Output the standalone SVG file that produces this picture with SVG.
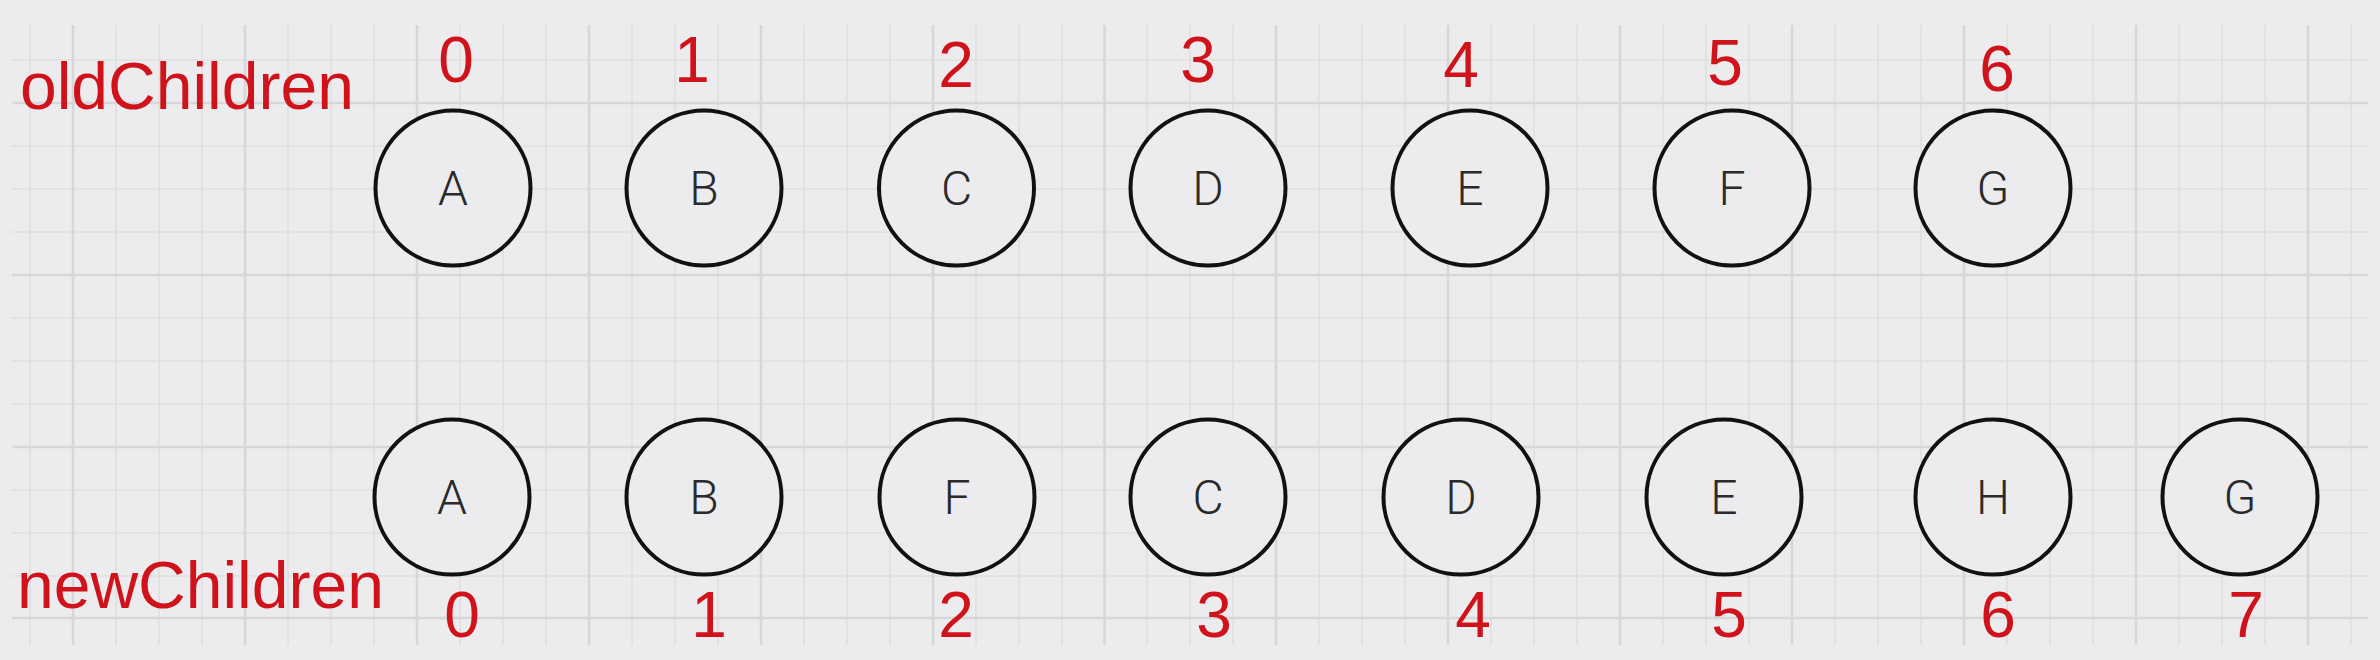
<svg xmlns="http://www.w3.org/2000/svg" width="2380" height="660" viewBox="0 0 2380 660">
<style>
.bg{fill:#ececee}
.gmin{stroke:#dfdfe1;stroke-width:1.6;fill:none}
.gmaj{stroke:#d7d7d9;stroke-width:2.6;fill:none}
.node circle{fill:#ececee;stroke:#111;stroke-width:4}
.node text{font-family:Roboto,"Liberation Sans",Arial,sans-serif;font-weight:300;font-size:48px;fill:#2a2a2a;text-anchor:middle}
.red{font-family:"Liberation Sans",Arial,Helvetica,sans-serif;fill:#d0121b}
.idx{font-size:64px;text-anchor:middle}
.lbl{font-size:66px}
</style>
<rect class="bg" x="0" y="0" width="2380" height="660"/>
<g id="grid">
<path class="gmin" d="M30 25V645M116 25V645M159 25V645M202 25V645M288 25V645M331 25V645M374 25V645M460 25V645M503 25V645M546 25V645M632 25V645M675 25V645M718 25V645M804 25V645M847 25V645M890 25V645M976 25V645M1019 25V645M1062 25V645M1147 25V645M1190 25V645M1233 25V645M1319 25V645M1362 25V645M1405 25V645M1491 25V645M1534 25V645M1577 25V645M1663 25V645M1706 25V645M1749 25V645M1835 25V645M1878 25V645M1921 25V645M2007 25V645M2050 25V645M2093 25V645M2179 25V645M2222 25V645M2265 25V645M2351 25V645"/>
<path class="gmin" d="M12 60H2368M12 146H2368M12 189H2368M12 232H2368M12 318H2368M12 361H2368M12 404H2368M12 490H2368M12 533H2368M12 576H2368"/>
<path class="gmaj" d="M73 25V645M245 25V645M417 25V645M589 25V645M761 25V645M933 25V645M1104.5 25V645M1276 25V645M1448 25V645M1620 25V645M1792 25V645M1964 25V645M2136 25V645M2308 25V645"/>
<path class="gmaj" d="M12 103H2368M12 275H2368M12 447H2368M12 618H2368"/>
</g>
<g id="connectors"/>
<g id="labels">
<text class="red lbl" x="20" y="109">oldChildren</text>
<text class="red lbl" x="17" y="608">newChildren</text>
</g>
<g id="old-A" class="node"><circle cx="453" cy="188" r="77.5"/><text x="453" y="205">A</text></g>
<g id="old-B" class="node"><circle cx="704" cy="188" r="77.5"/><text x="704" y="205">B</text></g>
<g id="old-C" class="node"><circle cx="956.5" cy="188" r="77.5"/><text x="956.5" y="205">C</text></g>
<g id="old-D" class="node"><circle cx="1208" cy="188" r="77.5"/><text x="1208" y="205">D</text></g>
<g id="old-E" class="node"><circle cx="1470" cy="188" r="77.5"/><text x="1470" y="205">E</text></g>
<g id="old-F" class="node"><circle cx="1732" cy="188" r="77.5"/><text x="1732" y="205">F</text></g>
<g id="old-G" class="node"><circle cx="1993" cy="188" r="77.5"/><text x="1993" y="205">G</text></g>
<g id="new-A" class="node"><circle cx="452" cy="497" r="77.5"/><text x="452" y="514">A</text></g>
<g id="new-B" class="node"><circle cx="704" cy="497" r="77.5"/><text x="704" y="514">B</text></g>
<g id="new-F" class="node"><circle cx="957" cy="497" r="77.5"/><text x="957" y="514">F</text></g>
<g id="new-C" class="node"><circle cx="1208" cy="497" r="77.5"/><text x="1208" y="514">C</text></g>
<g id="new-D" class="node"><circle cx="1461" cy="497" r="77.5"/><text x="1461" y="514">D</text></g>
<g id="new-E" class="node"><circle cx="1724" cy="497" r="77.5"/><text x="1724" y="514">E</text></g>
<g id="new-H" class="node"><circle cx="1993" cy="497" r="77.5"/><text x="1993" y="514">H</text></g>
<g id="new-G" class="node"><circle cx="2240" cy="497" r="77.5"/><text x="2240" y="514">G</text></g>
<g id="old-indices">
<text class="red idx" x="456" y="82">0</text>
<text class="red idx" x="692" y="82">1</text>
<text class="red idx" x="956" y="87">2</text>
<text class="red idx" x="1198" y="82">3</text>
<text class="red idx" x="1461" y="87">4</text>
<text class="red idx" x="1725" y="85">5</text>
<text class="red idx" x="1997" y="91">6</text>
</g>
<g id="new-indices">
<text class="red idx" x="462" y="637">0</text>
<text class="red idx" x="709" y="637">1</text>
<text class="red idx" x="956" y="637">2</text>
<text class="red idx" x="1214" y="637">3</text>
<text class="red idx" x="1473" y="637">4</text>
<text class="red idx" x="1729" y="637">5</text>
<text class="red idx" x="1998" y="637">6</text>
<text class="red idx" x="2246" y="637">7</text>
</g>
</svg>
